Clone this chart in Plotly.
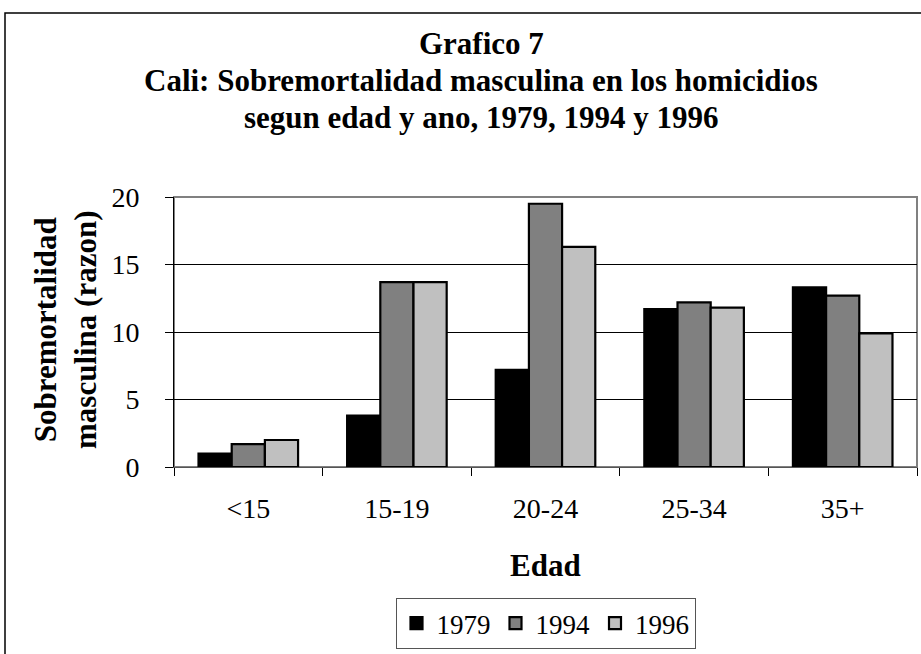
import plotly.graph_objects as go

# age groups and the male/female homicide ratio per year
edades = ["<15", "15-19", "20-24", "25-34", "35+"]
razon_1979 = [1.0, 3.8, 7.2, 11.7, 13.3]
razon_1994 = [1.7, 13.7, 19.5, 12.2, 12.7]
razon_1996 = [2.0, 13.7, 16.3, 11.8, 9.9]
anios = ["1979", "1994", "1996"]
y_ticks = [0, 5, 10, 15, 20]

titulo = ["Grafico 7",
          "Cali: Sobremortalidad masculina en los homicidios",
          "segun edad y ano, 1979, 1994 y 1996"]

FONT = "Liberation Serif, Times New Roman, serif"
colores = ["#000000", "#808080", "#c0c0c0"]

fig = go.Figure()
for anio, vals, color in zip(anios, [razon_1979, razon_1994, razon_1996], colores):
    fig.add_trace(go.Bar(x=edades, y=vals, name=anio,
                         marker=dict(color=color, line=dict(color="black", width=2.2))))

# plot area size (px) used to place paper-referenced items
L, R, T, B = 174, 4, 197, 187
pw, ph = 921 - L - R, 654 - T - B

def px_x(x):
    return (x - L) / pw

def px_y(y):
    return (654 - B - y) / ph

fig.update_layout(
    width=921, height=654,
    margin=dict(l=L, r=R, t=T, b=B, autoexpand=False),
    paper_bgcolor="white", plot_bgcolor="white",
    font=dict(family=FONT, color="black"),
    barmode="group", bargap=0.33, bargroupgap=0,
    legend=dict(orientation="h", x=0.5, xanchor="center", y=px_y(598), yanchor="top",
                bordercolor="#555555", borderwidth=1, font=dict(size=27, family=FONT),
                tracegroupgap=0),
    showlegend=True,
)

fig.update_yaxes(range=[0, 20], tickvals=y_ticks, showgrid=True, gridcolor="black", gridwidth=1,
                 showline=True, linecolor="black", linewidth=1, ticks="outside", ticklen=8,
                 tickcolor="black", tickfont=dict(size=28, family=FONT), ticklabelstandoff=20,
                 zeroline=False)
fig.update_xaxes(tickson="boundaries", ticks="outside", ticklen=8, tickcolor="black",
                 showline=True, linecolor="#555555", linewidth=1,
                 tickfont=dict(size=28, family=FONT), ticklabelstandoff=16)

# gray plot frame and outer chart border
fig.add_shape(type="rect", xref="paper", yref="paper", x0=0, x1=1, y0=0, y1=1,
              line=dict(color="#808080", width=2), layer="below")
fig.add_shape(type="rect", xref="paper", yref="paper",
              x0=px_x(5), x1=px_x(930), y0=px_y(13), y1=px_y(670),
              line=dict(color="black", width=1.5))

# title lines
for linea, yc in zip(titulo, [43, 80, 117]):
    fig.add_annotation(text=f"<b>{linea}</b>", xref="paper", yref="paper",
                       x=px_x(481), y=px_y(yc), xanchor="center", yanchor="middle",
                       showarrow=False, font=dict(size=31, family=FONT))

fig.add_annotation(text="<b>Sobremortalidad<br>masculina (razon)</b>", textangle=-90,
                   xref="paper", yref="paper", x=px_x(65), y=px_y(330),
                   xanchor="center", yanchor="middle", showarrow=False,
                   font=dict(size=31, family=FONT))
fig.add_annotation(text="<b>Edad</b>", xref="paper", yref="paper", x=0.5, y=px_y(565),
                   xanchor="center", yanchor="middle", showarrow=False,
                   font=dict(size=31, family=FONT))

# drop the browser's default page margin so the figure sits at the top-left corner
fig.write_html("out.html", config={"displayModeBar": False},
               post_script="document.body.style.margin='0';")
